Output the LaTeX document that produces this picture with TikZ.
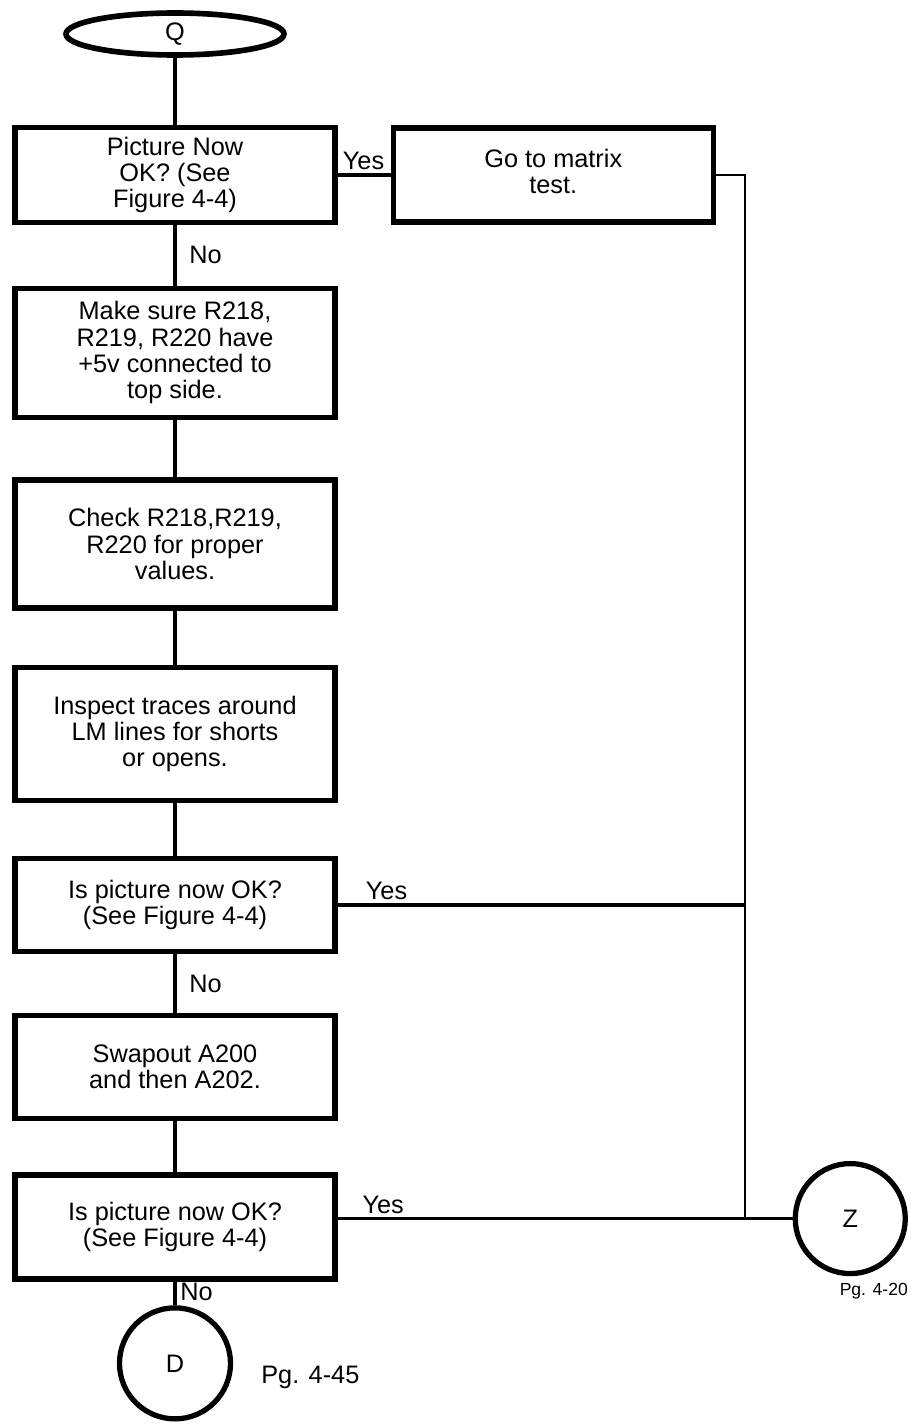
\documentclass[tikz,border=0pt]{standalone}
\usepackage{fontspec}
\setmainfont{Liberation Sans}
\usepackage{tikz}
\usetikzlibrary{shapes.geometric, positioning}

\begin{document}
\begin{tikzpicture}[node distance=1.3cm, font=\fontsize{14.4pt}{14.9pt}\selectfont]
        % --- STILI ---
        \tikzset{
            stepbox/.style={draw, rectangle, line width=3pt, minimum width=6.4cm, inner sep=3pt, align=center, fill=white},
            terminal/.style={draw, ellipse, line width=3.2pt, inner sep=0pt, minimum width=4.36cm, minimum height=0.84cm},
            offpage/.style={draw, circle, line width=3pt, inner sep=0pt},
            conn/.style={line width=2pt},
            bus/.style={line width=1.6pt},
            answer/.style={inner sep=2pt}
        }
        \useasboundingbox (0,0) rectangle (18.22,-28.52);

        % --- COLONNA PRINCIPALE ---
        \node [terminal] (start_q) at (3.5,-0.68) {Q};
        \node [stepbox, below=1.34cm of start_q, minimum height=1.9cm] (chk_pic1) {Picture Now\\OK? (See\\Figure 4-4)};
        \node [stepbox, below=1.21cm of chk_pic1, minimum height=2.58cm] (chk_volt) {Make sure R218,\\R219, R220 have\\+5v connected to\\top side.};
        \node [stepbox, below=1.15cm of chk_volt, minimum height=2.56cm] (chk_res) {Check R218,R219,\\R220 for proper\\values.};
        \node [stepbox, below=1.09cm of chk_res, minimum height=2.66cm] (insp_lm) {Inspect traces around\\LM lines for shorts\\or opens.};
        \node [stepbox, below=1.05cm of insp_lm, minimum height=1.86cm] (chk_pic2) {Is picture now OK?\\(See Figure 4-4)};
        \node [stepbox, below=1.17cm of chk_pic2, minimum height=2.06cm] (swap_a) {Swapout A200\\and then A202.};
        \node [stepbox, below=1.03cm of swap_a, minimum height=2.08cm] (chk_pic3) {Is picture now OK?\\(See Figure 4-4)};
        \node [offpage, below=0.47cm of chk_pic3, minimum size=2.22cm] (page_d) {D};
        \node [right=0.44cm of page_d, yshift=-0.28cm] (pg_d) {Pg. 4-45};

        % --- COLONNA DESTRA ---
        \node [stepbox, right=1.06cm of chk_pic1, minimum height=1.88cm] (matrix_t) {\raisebox{0.2cm}{\begin{tabular}{@{}c@{}}Go to matrix\\test.\end{tabular}}};
        \node [offpage, right=9.1cm of chk_pic3, yshift=0.17cm, minimum size=2.2cm] (page_z) {Z};
        \node [below=0.02cm of page_z, xshift=0.47cm, font=\fontsize{10pt}{12pt}\selectfont] (pg_z) {Pg. 4-20};
        \coordinate (bus_x) at (14.9,0);

        % --- CONNESSIONI ---
        \draw [conn] (start_q) -- (chk_pic1);
        \draw [conn] (chk_pic1) -- node[right, answer, xshift=0.18cm] {No} (chk_volt);
        \draw [conn] (chk_volt) -- (chk_res);
        \draw [conn] (chk_res) -- (insp_lm);
        \draw [conn] (insp_lm) -- (chk_pic2);
        \draw [conn] (chk_pic2) -- node[right, answer, xshift=0.18cm] {No} (swap_a);
        \draw [conn] (swap_a) -- (chk_pic3);
        \draw [conn] (chk_pic3) -- node[right, answer, pos=0.45] {No} (page_d);

        \draw [conn] (chk_pic1.east) -- node[above right, answer, pos=0] {Yes} (matrix_t.west);
        \draw [conn] (chk_pic2.east) -- node[above, answer, pos=0.12] {Yes} (bus_x |- chk_pic2.east);
        \draw [conn] (chk_pic3.east |- page_z.west) -- node[above, answer, pos=0.1] {Yes} (page_z.west);

        % --- BUS DI RITORNO ---
        \draw [bus] (matrix_t.east) -| (bus_x |- page_z.west);

    \end{tikzpicture}
\end{document}
